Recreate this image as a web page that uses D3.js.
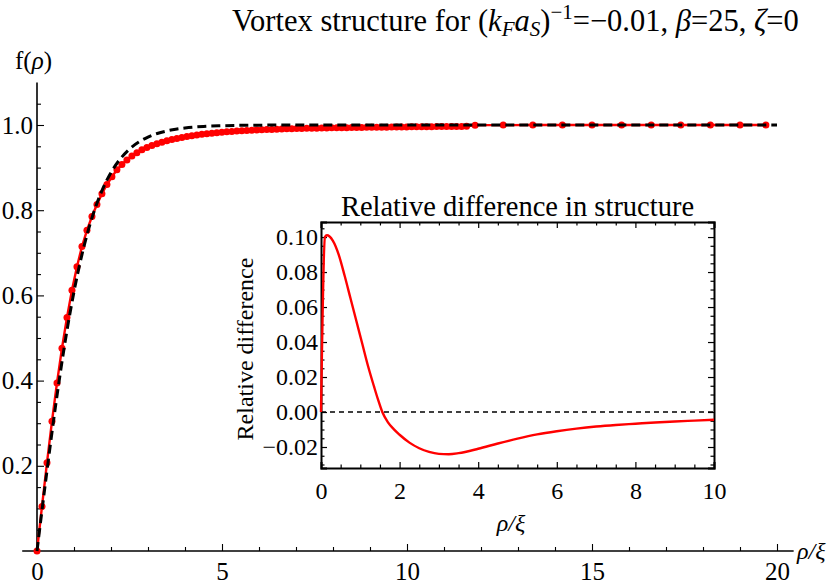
<!DOCTYPE html>
<html>
<head>
<meta charset="utf-8">
<script src="https://cdn.jsdelivr.net/npm/d3@7"></script>
<style>
  html, body { margin: 0; padding: 0; background: #fff; }
  svg { display: block; }
</style>
</head>
<body>
<svg id="chart" width="828" height="583"></svg>
<script>
const SERIF = '"Liberation Serif", "Times New Roman", Times, serif';

// ---- main panel: numerical vortex profile (red points) ----
const redRho = [
  0, 0.135, 0.27, 0.405, 0.54, 0.675, 0.81, 0.945, 1.08, 1.215, 1.35, 1.485, 1.62, 1.755, 1.89, 2.025,
  2.16, 2.295, 2.43, 2.565, 2.7, 2.835, 2.97, 3.105, 3.24, 3.375, 3.51, 3.645, 3.78, 3.915, 4.05, 4.185,
  4.32, 4.455, 4.59, 4.725, 4.86, 4.995, 5.13, 5.265, 5.4, 5.535, 5.67, 5.805, 5.94, 6.075, 6.21, 6.345,
  6.48, 6.615, 6.75, 6.885, 7.02, 7.155, 7.29, 7.425, 7.56, 7.695, 7.83, 7.965, 8.1, 8.235, 8.37, 8.505,
  8.64, 8.775, 8.91, 9.045, 9.18, 9.315, 9.45, 9.585, 9.72, 9.855, 9.99, 10.125, 10.26, 10.395, 10.53, 10.665,
  10.8, 10.935, 11.07, 11.205, 11.34, 11.475, 11.61,
  11.84, 12.6, 13.4, 14.2, 15.0, 15.8, 16.6, 17.4, 18.2, 19.0, 19.7
];
const redF = [
  0, 0.1047, 0.2073, 0.3046, 0.3945, 0.4760, 0.5484, 0.6121, 0.6674, 0.7146, 0.7527, 0.7852, 0.8132, 0.8388, 0.8604, 0.8783,
  0.8947, 0.9070, 0.9179, 0.9273, 0.9351, 0.9417, 0.9472, 0.9521, 0.9561, 0.9597, 0.9629, 0.9659, 0.9685, 0.9709, 0.9730, 0.9749,
  0.9766, 0.9782, 0.9796, 0.9808, 0.9819, 0.9831, 0.9840, 0.9849, 0.9857, 0.9865, 0.9872, 0.9878, 0.9883, 0.9888, 0.9893, 0.9897,
  0.9902, 0.9906, 0.9910, 0.9913, 0.9916, 0.9919, 0.9922, 0.9924, 0.9926, 0.9929, 0.9931, 0.9933, 0.9934, 0.9936, 0.9938, 0.9940,
  0.9942, 0.9943, 0.9945, 0.9946, 0.9947, 0.9949, 0.9950, 0.9951, 0.9953, 0.9954, 0.9955, 0.9957, 0.9958, 0.9959, 0.9960, 0.9961,
  0.9962, 0.9963, 0.9964, 0.9965, 0.9966, 0.9967, 0.9968,
  0.9996, 0.9998, 0.9999, 0.9999, 1.0, 1.0, 1.0, 1.0, 1.0, 1.0, 1.0
];

// ---- main panel: reference profile (black dashed) ----
const refRho = [0, 0.25, 0.5, 0.75, 1.0, 1.25, 1.5, 1.75, 2.0, 2.25, 2.5, 2.75, 3.0, 3.25, 3.5, 3.75,
  4.0, 4.5, 5.0, 5.5, 6.0, 7.0, 8.0, 10.0, 14.0, 20.0];
const refF = [0, 0.175, 0.3395, 0.4857, 0.6089, 0.7084, 0.7859, 0.8447, 0.8884, 0.9203, 0.9434, 0.9599, 0.9717, 0.9800, 0.9859, 0.9901,
  0.9930, 0.9966, 0.9983, 0.9992, 0.9996, 0.9999, 1.0, 1.0, 1.0, 1.0];

// ---- inset: relative difference ----
const diffRho = [0, 0.1, 0.15, 0.3, 0.45, 0.6, 0.75, 0.9, 1.05, 1.2, 1.35, 1.45, 1.56, 1.7, 1.85, 2.0,
  2.25, 2.5, 2.75, 3.0, 3.25, 3.5, 4.0, 4.5, 5.0, 5.5, 6.0, 6.5, 7.0, 7.5, 8.0, 8.5, 9.0, 9.5, 10.0];
const diffVal = [0, 0.100, 0.101, 0.098, 0.090, 0.078, 0.065, 0.052, 0.039, 0.026, 0.0145, 0.0072, 0.0, -0.0058, -0.0098, -0.013,
  -0.0175, -0.0207, -0.0228, -0.0239, -0.0241, -0.0235, -0.021, -0.018, -0.0152, -0.0128, -0.011, -0.0095, -0.0083, -0.0074,
  -0.0067, -0.006, -0.0054, -0.0049, -0.0044];

// tick values
const mainXTicks = [0, 5, 10, 15, 20];
const mainXMinor = [1, 2, 3, 4, 6, 7, 8, 9, 11, 12, 13, 14, 16, 17, 18, 19];
const mainYTicks = [0.2, 0.4, 0.6, 0.8, 1.0];
const mainYMinor = [0.05, 0.1, 0.15, 0.25, 0.3, 0.35, 0.45, 0.5, 0.55, 0.65, 0.7, 0.75, 0.85, 0.9, 0.95, 1.05];
const insetXTicks = [0, 2, 4, 6, 8, 10];
const insetXMinor = [0.5, 1, 1.5, 2.5, 3, 3.5, 4.5, 5, 5.5, 6.5, 7, 7.5, 8.5, 9, 9.5];
const insetYTicks = [-0.02, 0.0, 0.02, 0.04, 0.06, 0.08, 0.10];
const insetYMinor = [-0.03, -0.025, -0.015, -0.01, -0.005, 0.005, 0.01, 0.015, 0.025, 0.03, 0.035,
  0.045, 0.05, 0.055, 0.065, 0.07, 0.075, 0.085, 0.09, 0.095, 0.105];

const svg = d3.select("#chart");

// ---------- main panel ----------
const x = d3.scaleLinear().domain([-0.4, 20.45]).range([22.2, 793.65]);
const y = d3.scaleLinear().domain([0, 1.1]).range([551, 82.4]);

const main = svg.append("g");

// x axis (ticks point up into the plot)
const xAxisG = main.append("g").attr("transform", `translate(0,${y(0)})`);
xAxisG.call(d3.axisBottom(x).tickValues(mainXTicks).tickSize(-7).tickPadding(12).tickFormat(d3.format("d")));
xAxisG.append("g").call(d3.axisBottom(x).tickValues(mainXMinor).tickSize(-4).tickFormat(""))
  .select(".domain").remove();
xAxisG.selectAll(".domain").attr("d", `M${x(-0.4)},0H${x(20.45)}`).attr("stroke-width", 1.6);
xAxisG.selectAll(".tick line").attr("stroke-width", 1.1);
xAxisG.selectAll(".tick text").attr("font-size", 25).attr("dy", "0.7em").attr("y", 11);

// y axis (ticks point right into the plot)
const yAxisG = main.append("g").attr("transform", `translate(${x(0)},0)`);
yAxisG.call(d3.axisLeft(y).tickValues(mainYTicks).tickSize(-7).tickPadding(4).tickFormat(d3.format(".1f")));
yAxisG.append("g").call(d3.axisLeft(y).tickValues(mainYMinor).tickSize(-4).tickFormat(""))
  .select(".domain").remove();
yAxisG.selectAll(".domain").attr("d", `M0,${y(0)}V${y(1.1)}`).attr("stroke-width", 1.6);
yAxisG.selectAll(".tick line").attr("stroke-width", 1.1);
yAxisG.selectAll(".tick text").attr("font-size", 25);

// axis labels
const fLabel = main.append("text").attr("x", 15).attr("y", 69).attr("font-size", 25);
fLabel.append("tspan").text("f(");
fLabel.append("tspan").attr("font-style", "italic").text("ρ");
fLabel.append("tspan").text(")");

main.append("text").attr("x", 797).attr("y", 559).attr("font-size", 24).attr("font-style", "italic")
  .text("ρ/ξ");

// red data: connecting line + points
const redPts = redRho.map((r, i) => [r, redF[i]]);
const line = d3.line().x(d => x(d[0])).y(d => y(d[1]));
main.append("path").datum(redPts)
  .attr("d", line).attr("fill", "none").attr("stroke", "#ff0000").attr("stroke-width", 2.4);
main.append("g").selectAll("circle").data(redPts).join("circle")
  .attr("cx", d => x(d[0])).attr("cy", d => y(d[1])).attr("r", 3.5).attr("fill", "#ff0000");

// black dashed reference profile
const refPts = refRho.map((r, i) => [r, refF[i]]);
const smooth = d3.line().x(d => x(d[0])).y(d => y(d[1])).curve(d3.curveMonotoneX);
main.append("path").datum(refPts)
  .attr("d", smooth).attr("fill", "none").attr("stroke", "#000").attr("stroke-width", 3)
  .attr("stroke-dasharray", "9,5");

// title
const title = svg.append("text").attr("x", 232).attr("y", 31).attr("font-size", 30.5);
title.append("tspan").text("Vortex structure for (");
title.append("tspan").attr("font-style", "italic").text("k");
title.append("tspan").attr("font-style", "italic").attr("font-size", 21).attr("baseline-shift", "-5").text("F");
title.append("tspan").attr("font-style", "italic").text("a");
title.append("tspan").attr("font-style", "italic").attr("font-size", 21).attr("baseline-shift", "-5").text("S");
title.append("tspan").text(")");
title.append("tspan").attr("font-size", 21).attr("baseline-shift", "12").text("−1");
title.append("tspan").text("=−0.01, ");
title.append("tspan").attr("font-style", "italic").text("β");
title.append("tspan").text("=25, ");
title.append("tspan").attr("font-style", "italic").text("ζ");
title.append("tspan").text("=0");

// ---------- inset panel ----------
const ix = d3.scaleLinear().domain([0, 10]).range([321, 714]);
const iy = d3.scaleLinear().domain([-0.032, 0.1086]).range([468, 222]);
const inset = svg.append("g");

inset.append("rect").attr("x", 321).attr("y", 222).attr("width", 393).attr("height", 246)
  .attr("fill", "#fff");

// frame ticks on all four sides, pointing inward
function frameAxis(axisFn, scale, vals, minor, transform, fmt) {
  const g = inset.append("g").attr("transform", transform);
  g.call(axisFn(scale).tickValues(vals).tickSize(-6).tickPadding(3).tickFormat(fmt));
  g.append("g").call(axisFn(scale).tickValues(minor).tickSize(-3.5).tickFormat(""))
    .select(".domain").remove();
  g.selectAll(".domain").attr("stroke-width", 2);
  g.selectAll(".tick line").attr("stroke-width", 1.2);
  g.selectAll(".tick text").attr("font-size", 24);
  return g;
}
const fmtX = d3.format("d");
const fmtY = d => (d < 0 ? "−" : "") + Math.abs(d).toFixed(2);
const bAx = frameAxis(d3.axisBottom, ix, insetXTicks, insetXMinor, "translate(0,468)", fmtX);
bAx.selectAll(".tick text").attr("dy", "0.7em").attr("y", 14);
frameAxis(d3.axisTop, ix, insetXTicks, insetXMinor, "translate(0,222)", "");
frameAxis(d3.axisLeft, iy, insetYTicks, insetYMinor, "translate(321,0)", fmtY);
frameAxis(d3.axisRight, iy, insetYTicks, insetYMinor, "translate(714,0)", "");

// zero reference line
inset.append("line").attr("x1", ix(0)).attr("x2", ix(10)).attr("y1", iy(0)).attr("y2", iy(0))
  .attr("stroke", "#000").attr("stroke-width", 1.5).attr("stroke-dasharray", "5,4");

// relative difference curve
const diffPts = diffRho.map((r, i) => [r, diffVal[i]]);
inset.append("path").datum(diffPts)
  .attr("d", d3.line().x(d => ix(d[0])).y(d => iy(d[1])).curve(d3.curveMonotoneX))
  .attr("fill", "none").attr("stroke", "#ff0000").attr("stroke-width", 2.4);

// inset labels
inset.append("text").attr("x", 517.5).attr("y", 216).attr("text-anchor", "middle").attr("font-size", 28.5)
  .text("Relative difference in structure");
inset.append("text").attr("x", 511).attr("y", 531).attr("text-anchor", "middle")
  .attr("font-size", 24).attr("font-style", "italic").text("ρ/ξ");
inset.append("text").attr("transform", "translate(253,349) rotate(-90)").attr("text-anchor", "middle")
  .attr("font-size", 24).text("Relative difference");

// serif typeface everywhere
svg.selectAll("text").style("font-family", SERIF);
</script>
</body>
</html>
